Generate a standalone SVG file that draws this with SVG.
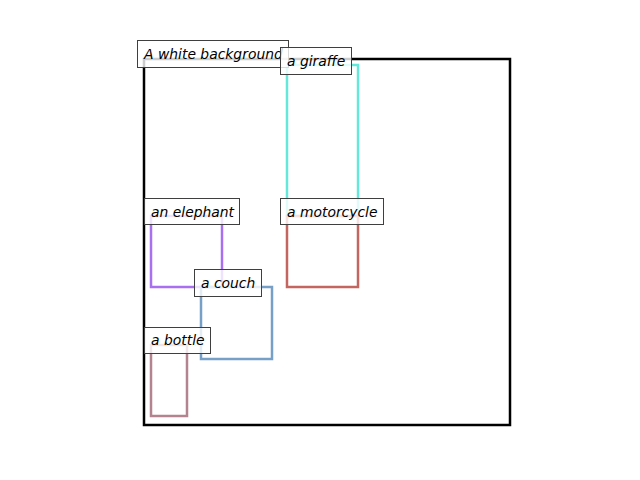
<svg xmlns="http://www.w3.org/2000/svg" width="640" height="480" viewBox="0 0 640 480">
<style>
.box{fill:none;stroke-width:2.5;stroke-linejoin:miter}
.lbl rect{fill:#fff;fill-opacity:0.8;stroke:#3f3f3f;stroke-width:1}
.lbl text{font-family:"DejaVu Sans",sans-serif;font-style:oblique;font-size:13.9px;fill:#000}
</style>
<rect width="640" height="480" fill="#fff"/>
<g id="boxes">
<rect id="background" class="box" x="144" y="59" width="366" height="366" stroke="#000" stroke-width="2"/>
<rect id="giraffe" class="box" x="287" y="65" width="71" height="151" stroke="#64e8dc"/>
<rect id="elephant" class="box" x="151" y="216" width="71" height="71" stroke="#a870f0"/>
<rect id="motorcycle" class="box" x="287" y="216" width="71" height="71" stroke="#c4665f"/>
<rect id="couch" class="box" x="201" y="287" width="71" height="72" stroke="#77a0c8"/>
<rect id="bottle" class="box" x="151" y="345" width="36" height="71" stroke="#b3838f"/>
</g>
<g id="label-background" class="lbl"><rect x="137.5" y="40.5" width="151" height="27"/><text x="144" y="59">A white background</text></g>
<g id="label-giraffe" class="lbl"><rect x="280.5" y="47.5" width="71" height="27"/><text x="287" y="66">a giraffe</text></g>
<g id="label-elephant" class="lbl"><rect x="144.5" y="198.5" width="95" height="26"/><text x="151" y="217">an elephant</text></g>
<g id="label-motorcycle" class="lbl"><rect x="280.5" y="198.5" width="103" height="26"/><text x="287" y="217">a motorcycle</text></g>
<g id="label-couch" class="lbl"><rect x="194.5" y="269.5" width="67" height="27"/><text x="201" y="288">a couch</text></g>
<g id="label-bottle" class="lbl"><rect x="144.5" y="327.5" width="66" height="26"/><text x="151" y="345">a bottle</text></g>
</svg>
